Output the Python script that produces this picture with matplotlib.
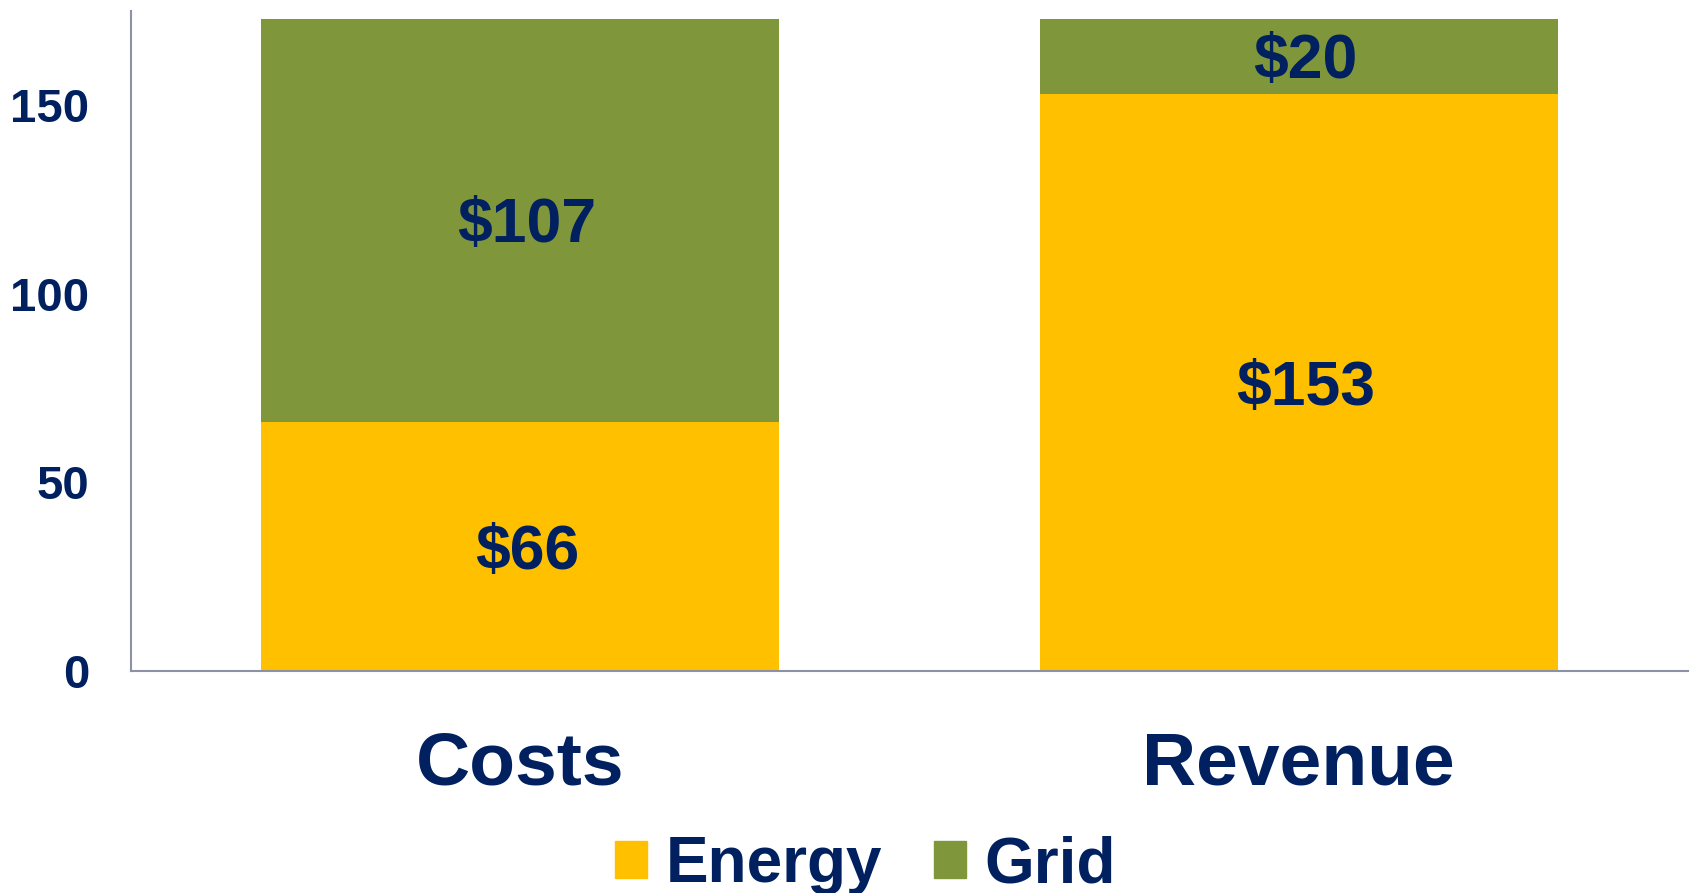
import matplotlib
matplotlib.use("Agg")
import matplotlib.pyplot as plt
from matplotlib.patches import Patch

# Chart data
categories = ["Costs", "Revenue"]
energy = [66, 153]
grid = [107, 20]
series_names = ["Energy", "Grid"]

NAVY = "#002060"
GOLD = "#FFC000"
OLIVE = "#80963A"

plt.rcParams["font.family"] = ["Liberation Sans", "DejaVu Sans"]
plt.rcParams["font.weight"] = "bold"

fig = plt.figure(figsize=(16.94, 8.93), dpi=100)
ax = fig.add_axes([0.0773, 0.2486, 0.9192, 0.7391])

x = list(range(len(categories)))
b1 = ax.bar(x, energy, width=0.666, color=GOLD, label=series_names[0])
b2 = ax.bar(x, grid, width=0.666, bottom=energy, color=OLIVE, label=series_names[1])

for bars, vals in ((b1, energy), (b2, grid)):
    anns = ax.bar_label(bars, labels=[f"${v}" for v in vals], label_type="center",
                        fontsize=45, fontweight="bold", color=NAVY)
    # nudge labels down a little to match the original
    for a in anns:
        a.xyann = (5, -4)

ax.set_xlim(-0.5, 1.5)
ax.set_ylim(0, 175)
ax.set_yticks([0, 50, 100, 150])
ax.set_xticks(x)
ax.set_xticklabels(categories)

ax.tick_params(axis="y", length=0, pad=30, labelsize=34, labelcolor=NAVY)
ax.tick_params(axis="x", length=0, pad=43, labelsize=54, labelcolor=NAVY)
for lbl in ax.get_xticklabels() + ax.get_yticklabels():
    lbl.set_fontweight("bold")

for side in ("top", "right"):
    ax.spines[side].set_visible(False)
for side in ("left", "bottom"):
    ax.spines[side].set_color("#8C91A6")
    ax.spines[side].set_linewidth(1.5)

handles = [Patch(color=GOLD), Patch(color=OLIVE)]
leg = fig.legend(handles, series_names, loc="center", bbox_to_anchor=(0.511, 0.031),
                 ncol=2, frameon=False, fontsize=46, handlelength=0.5, handleheight=0.5,
                 handletextpad=0.3, columnspacing=0.8, borderpad=0, borderaxespad=0)
for t in leg.get_texts():
    t.set_color(NAVY)
    t.set_fontweight("bold")

fig.savefig("out.png", dpi=100)
